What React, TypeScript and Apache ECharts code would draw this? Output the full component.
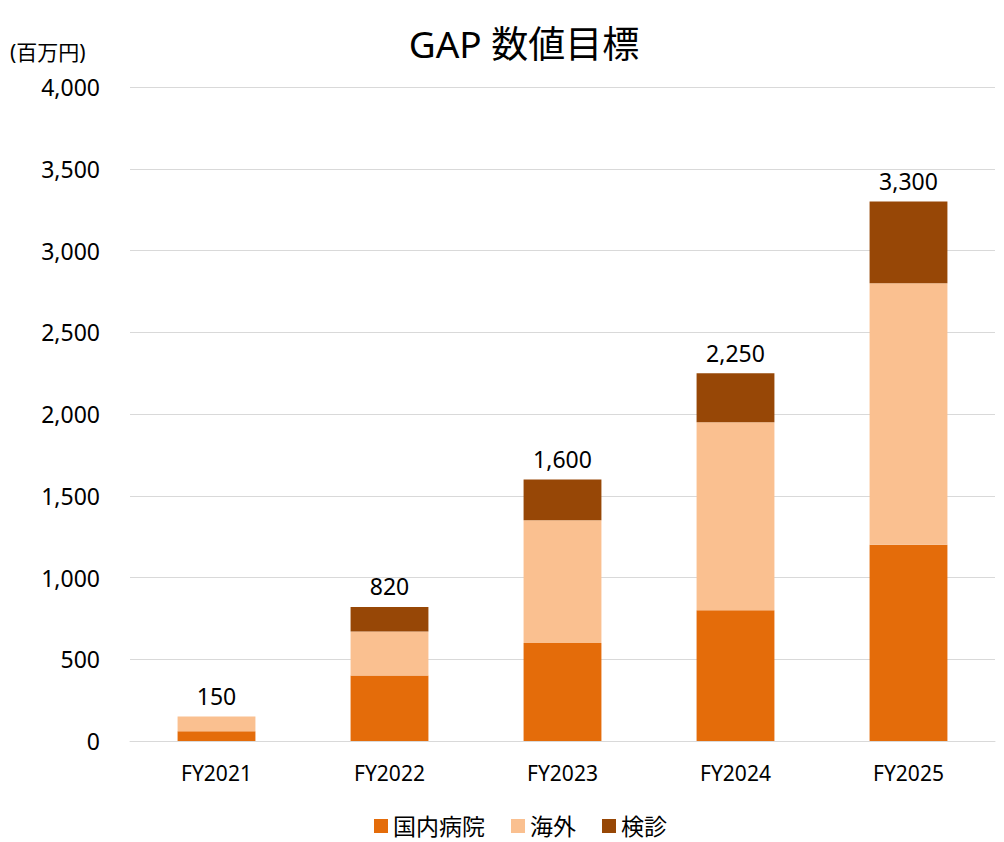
import React, { useEffect, useRef } from "react";
import * as echarts from "echarts";

const categories = ["FY2021", "FY2022", "FY2023", "FY2024", "FY2025"];
const domestic = [60, 400, 600, 800, 1200];
const overseas = [90, 270, 750, 1150, 1600];
const checkup = [0, 150, 250, 300, 500];
const totals = [150, 820, 1600, 2250, 3300];
const seriesNames = ["国内病院", "海外", "検診"];

const FONT = "'Noto Sans', 'Noto Sans CJK JP', sans-serif";

export default function App() {
  const ref = useRef<HTMLDivElement>(null);
  useEffect(() => {
    if (!ref.current) return;
    const chart = echarts.init(ref.current, undefined, { renderer: "svg" });
    const fmt = (v: number) => v.toLocaleString("en-US");
    chart.setOption({
      animation: false,
      backgroundColor: "#ffffff",
      textStyle: { fontFamily: FONT },
      graphic: [
        {
          type: "text",
          x: 524,
          y: 43,
          style: {
            text: "GAP 数値目標",
            fontSize: 37,
            fontFamily: FONT,
            fill: "#000",
            align: "center",
            verticalAlign: "middle",
          },
        },
        {
          type: "text",
          x: 10,
          y: 52,
          style: {
            text: "(百万円)",
            fontSize: 21,
            fontFamily: FONT,
            fill: "#000",
            align: "left",
            verticalAlign: "middle",
          },
        },
      ],
      legend: {
        data: seriesNames,
        top: 814,
        left: 374,
        padding: 0,
        itemWidth: 14,
        itemHeight: 14,
        itemGap: 26,
        icon: "rect",
        textStyle: {
          fontSize: 23,
          lineHeight: 24,
          color: "#000",
          fontFamily: FONT,
        },
      },
      grid: { left: 130, right: 9, top: 87, bottom: 101 },
      xAxis: {
        type: "category",
        data: categories,
        axisTick: { show: false },
        axisLine: { lineStyle: { color: "#d9d9d9", width: 1 } },
        axisLabel: { fontSize: 21, color: "#000", margin: 21, fontFamily: FONT },
      },
      yAxis: {
        type: "value",
        min: 0,
        max: 4000,
        interval: 500,
        axisLine: { show: false },
        axisTick: { show: false },
        splitLine: { lineStyle: { color: "#d9d9d9", width: 1 } },
        axisLabel: {
          fontSize: 23,
          color: "#000",
          margin: 30,
          fontFamily: FONT,
          formatter: (v: number) => fmt(v),
        },
      },
      series: [
        {
          name: seriesNames[0],
          type: "bar",
          stack: "total",
          data: domestic,
          barWidth: "45%",
          itemStyle: { color: "#E46C0A" },
        },
        {
          name: seriesNames[1],
          type: "bar",
          stack: "total",
          data: overseas,
          itemStyle: { color: "#FAC090" },
        },
        {
          name: seriesNames[2],
          type: "bar",
          stack: "total",
          data: checkup,
          itemStyle: { color: "#974706" },
          label: {
            show: true,
            position: "top",
            distance: 9,
            fontSize: 23,
            color: "#000",
            fontFamily: FONT,
            formatter: (p: any) => fmt(totals[p.dataIndex]),
          },
        },
      ],
    });
    return () => chart.dispose();
  }, []);
  return (
    <div
      ref={ref}
      style={{ position: "absolute", left: 0, top: 0, width: 1004, height: 842 }}
    />
  );
}
